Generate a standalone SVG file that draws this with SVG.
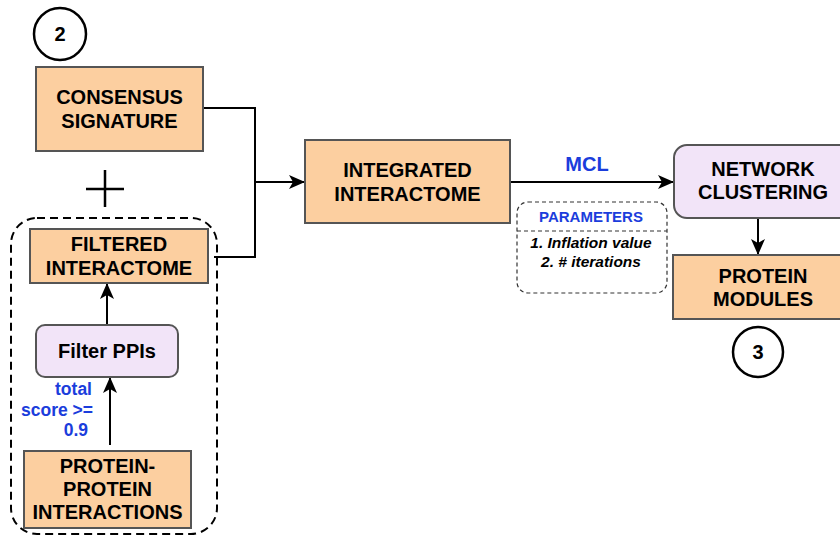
<svg xmlns="http://www.w3.org/2000/svg" width="840" height="537" viewBox="0 0 840 537">
<defs>
<marker id="arr" viewBox="0 0 16 14" refX="15" refY="7" markerWidth="16" markerHeight="14" markerUnits="userSpaceOnUse" orient="auto">
<path d="M0,0 L16,7 L0,14 L4,7 Z" fill="#000"/>
</marker>
</defs>
<style>
.box{fill:#fccfa0;stroke:#555;stroke-width:2}
.lav{fill:#f2e4f8;stroke:#555;stroke-width:2}
.t{font-family:"Liberation Sans",Arial,sans-serif;font-weight:bold;font-size:20px;fill:#000;text-anchor:middle}
.blue{fill:#1b3ddc}
.ln{fill:none;stroke:#000;stroke-width:2}
.circ{fill:#fff;stroke:#000;stroke-width:2.5}
</style>
<rect width="840" height="537" fill="#fff"/>

<g id="connectors">
<path class="ln" d="M203,108 H255 V257 H214"/>
<path class="ln" d="M255,182 H304" marker-end="url(#arr)"/>
<path class="ln" d="M510,182 H673" marker-end="url(#arr)"/>
<path class="ln" d="M758,218 V254" marker-end="url(#arr)"/>
<path class="ln" d="M107,325 V284" marker-end="url(#arr)"/>
<path class="ln" d="M110,445 V378" marker-end="url(#arr)"/>
<path class="ln" d="M86,189 H124 M105,170 V207" style="stroke-width:2.5"/>
</g>

<g id="label-2">
<circle class="circ" cx="60" cy="34" r="26"/>
<text class="t" x="60" y="41">2</text>
</g>

<g id="group-left">
<rect x="11" y="218" width="206" height="316" rx="26" fill="none" stroke="#000" stroke-width="2" stroke-dasharray="8,5"/>
</g>

<g id="consensus">
<rect class="box" x="36" y="67" width="167" height="84"/>
<text class="t" x="119.5" y="104">CONSENSUS</text>
<text class="t" x="119.5" y="128">SIGNATURE</text>
</g>

<g id="filtered">
<rect class="box" x="30" y="229" width="178" height="54"/>
<text class="t" x="119" y="251">FILTERED</text>
<text class="t" x="119" y="275">INTERACTOME</text>
</g>

<g id="filter-ppis">
<rect class="lav" x="36" y="325" width="142" height="52" rx="9"/>
<text class="t" x="107" y="358">Filter PPIs</text>
</g>

<g id="score-label">
<text class="t blue" style="font-size:17.5px;text-anchor:end" x="92" y="395">total</text>
<text class="t blue" style="font-size:17.5px;text-anchor:end" x="93" y="416">score &gt;=</text>
<text class="t blue" style="font-size:17.5px;text-anchor:end" x="88" y="436">0.9</text>
</g>

<g id="ppi">
<rect class="box" x="24" y="451" width="167" height="77"/>
<text class="t" x="107.5" y="473">PROTEIN-</text>
<text class="t" x="107.5" y="496">PROTEIN</text>
<text class="t" x="107.5" y="519">INTERACTIONS</text>
</g>

<g id="integrated">
<rect class="box" x="305" y="140" width="205" height="83"/>
<text class="t" x="407.5" y="177">INTEGRATED</text>
<text class="t" x="407.5" y="201">INTERACTOME</text>
</g>

<g id="mcl">
<text class="t blue" x="587" y="171">MCL</text>
</g>

<g id="parameters">
<rect x="517" y="202" width="150" height="91" rx="11" fill="#fff" stroke="#333" stroke-width="1.2" stroke-dasharray="4,3"/>
<line x1="517" y1="231" x2="667" y2="231" stroke="#333" stroke-width="1.2" stroke-dasharray="4,3"/>
<text class="t blue" style="font-size:15px" x="591" y="222">PARAMETERS</text>
<text class="t" style="font-size:15.5px;font-style:italic" x="591" y="248">1. Inflation value</text>
<text class="t" style="font-size:15.5px;font-style:italic" x="591" y="267">2. # iterations</text>
</g>

<g id="network-clustering">
<rect class="lav" x="674" y="145" width="180" height="73" rx="13"/>
<text class="t" x="763" y="176">NETWORK</text>
<text class="t" x="763" y="199">CLUSTERING</text>
</g>

<g id="protein-modules">
<rect class="box" x="673" y="255" width="180" height="64"/>
<text class="t" x="763" y="283">PROTEIN</text>
<text class="t" x="763" y="306">MODULES</text>
</g>

<g id="label-3">
<circle class="circ" cx="758" cy="352" r="25"/>
<text class="t" x="758" y="359">3</text>
</g>
</svg>
